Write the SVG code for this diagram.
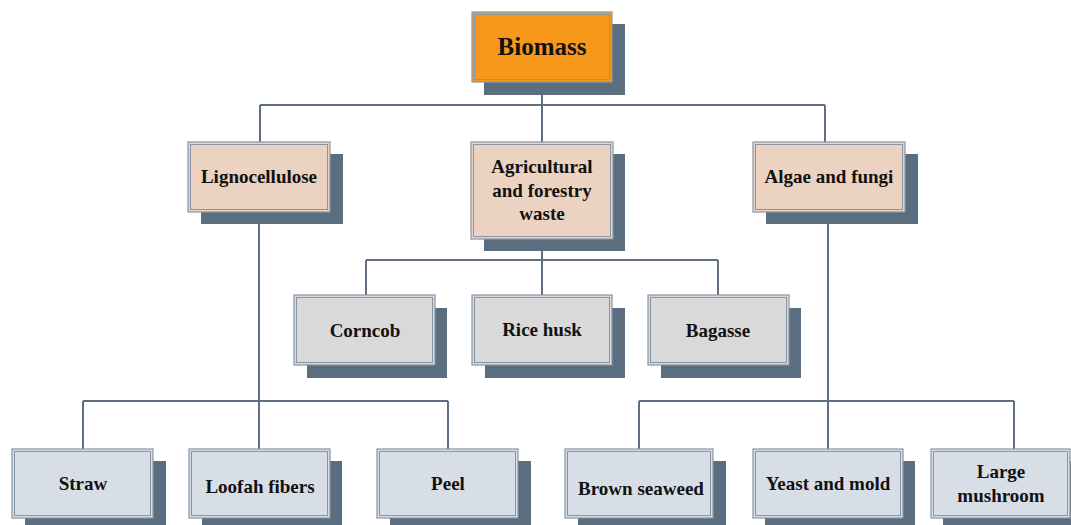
<svg xmlns="http://www.w3.org/2000/svg" width="1071" height="525" viewBox="0 0 1071 525">
<style>
.sh{fill:#5b6e80}
.bx{stroke:#8796a6;stroke-width:1.2}
.in{fill:none;stroke:#8796a6;stroke-width:1}
.c0{fill:#f7981d}
.c1{fill:#ebd2c1}
.c2{fill:#d9d9d9}
.c3{fill:#d8dee6}
text{font-family:'Liberation Serif','Times New Roman',serif;font-weight:bold;font-size:19px;fill:#111;text-anchor:middle}
.cn{fill:none;stroke:#5f7082;stroke-width:2}
</style>
<rect width="1071" height="525" fill="#fff"/>
<g id="connectors" class="cn">
<path d="M542 82V105M260 105H825M260 105V142M542 105V142M825 105V142"/>
<path d="M542 239V260M366 260H718M366 260V295M542 260V295M718 260V295"/>
<path d="M259 212V449M83 401H448M83 401V449M448 401V449"/>
<path d="M828 212V449M639 401H1014M639 401V449M1014 401V449"/>
</g>
<g id="biomass">
<rect class="sh" x="484" y="24" width="141" height="71"/>
<rect class="bx c0" x="472" y="12" width="140" height="70"/>
<rect class="in" x="474.5" y="14.5" width="135" height="65"/>
<text x="542" y="55" style="font-size:25px">Biomass</text>
</g>
<g id="lignocellulose">
<rect class="sh" x="201" y="154" width="142" height="70"/>
<rect class="bx c1" x="188" y="142" width="142" height="70"/>
<rect class="in" x="190.5" y="144.5" width="137" height="65"/>
<text x="259" y="183">Lignocellulose</text>
</g>
<g id="agri">
<rect class="sh" x="484" y="154" width="141" height="97"/>
<rect class="bx c1" x="471" y="142" width="142" height="97"/>
<rect class="in" x="473.5" y="144.5" width="137" height="92"/>
<text x="542" y="173">Agricultural</text>
<text x="542" y="197">and forestry</text>
<text x="542" y="220">waste</text>
</g>
<g id="algae">
<rect class="sh" x="766" y="154" width="152" height="70"/>
<rect class="bx c1" x="753" y="142" width="152" height="70"/>
<rect class="in" x="755.5" y="144.5" width="147" height="65"/>
<text x="829" y="183">Algae and fungi</text>
</g>
<g id="corncob">
<rect class="sh" x="307" y="308" width="140" height="70"/>
<rect class="bx c2" x="294" y="295" width="141" height="70"/>
<rect class="in" x="296.5" y="297.5" width="136" height="65"/>
<text x="365" y="337">Corncob</text>
</g>
<g id="ricehusk">
<rect class="sh" x="485" y="308" width="140" height="70"/>
<rect class="bx c2" x="472" y="295" width="140" height="70"/>
<rect class="in" x="474.5" y="297.5" width="135" height="65"/>
<text x="542" y="336">Rice husk</text>
</g>
<g id="bagasse">
<rect class="sh" x="661" y="308" width="140" height="70"/>
<rect class="bx c2" x="648" y="295" width="141" height="70"/>
<rect class="in" x="650.5" y="297.5" width="136" height="65"/>
<text x="718" y="337">Bagasse</text>
</g>
<g id="straw">
<rect class="sh" x="25" y="461" width="141" height="70"/>
<rect class="bx c3" x="12" y="449" width="141" height="69"/>
<rect class="in" x="14.5" y="451.5" width="136" height="64"/>
<text x="83" y="490">Straw</text>
</g>
<g id="loofah">
<rect class="sh" x="202" y="461" width="140" height="70"/>
<rect class="bx c3" x="189" y="449" width="141" height="69"/>
<rect class="in" x="191.5" y="451.5" width="136" height="64"/>
<text x="260" y="493">Loofah fibers</text>
</g>
<g id="peel">
<rect class="sh" x="390" y="461" width="141" height="70"/>
<rect class="bx c3" x="377" y="449" width="141" height="69"/>
<rect class="in" x="379.5" y="451.5" width="136" height="64"/>
<text x="448" y="490">Peel</text>
</g>
<g id="seaweed">
<rect class="sh" x="578" y="461" width="148" height="70"/>
<rect class="bx c3" x="565" y="449" width="148" height="69"/>
<rect class="in" x="567.5" y="451.5" width="143" height="64"/>
<text x="641" y="495">Brown seaweed</text>
</g>
<g id="yeast">
<rect class="sh" x="765" y="461" width="150" height="70"/>
<rect class="bx c3" x="753" y="449" width="150" height="69"/>
<rect class="in" x="755.5" y="451.5" width="145" height="64"/>
<text x="828" y="490">Yeast and mold</text>
</g>
<g id="mushroom">
<rect class="sh" x="943" y="461" width="140" height="70"/>
<rect class="bx c3" x="931" y="449" width="139" height="69"/>
<rect class="in" x="933.5" y="451.5" width="134" height="64"/>
<text x="1001" y="478">Large</text>
<text x="1001" y="502">mushroom</text>
</g>
</svg>
